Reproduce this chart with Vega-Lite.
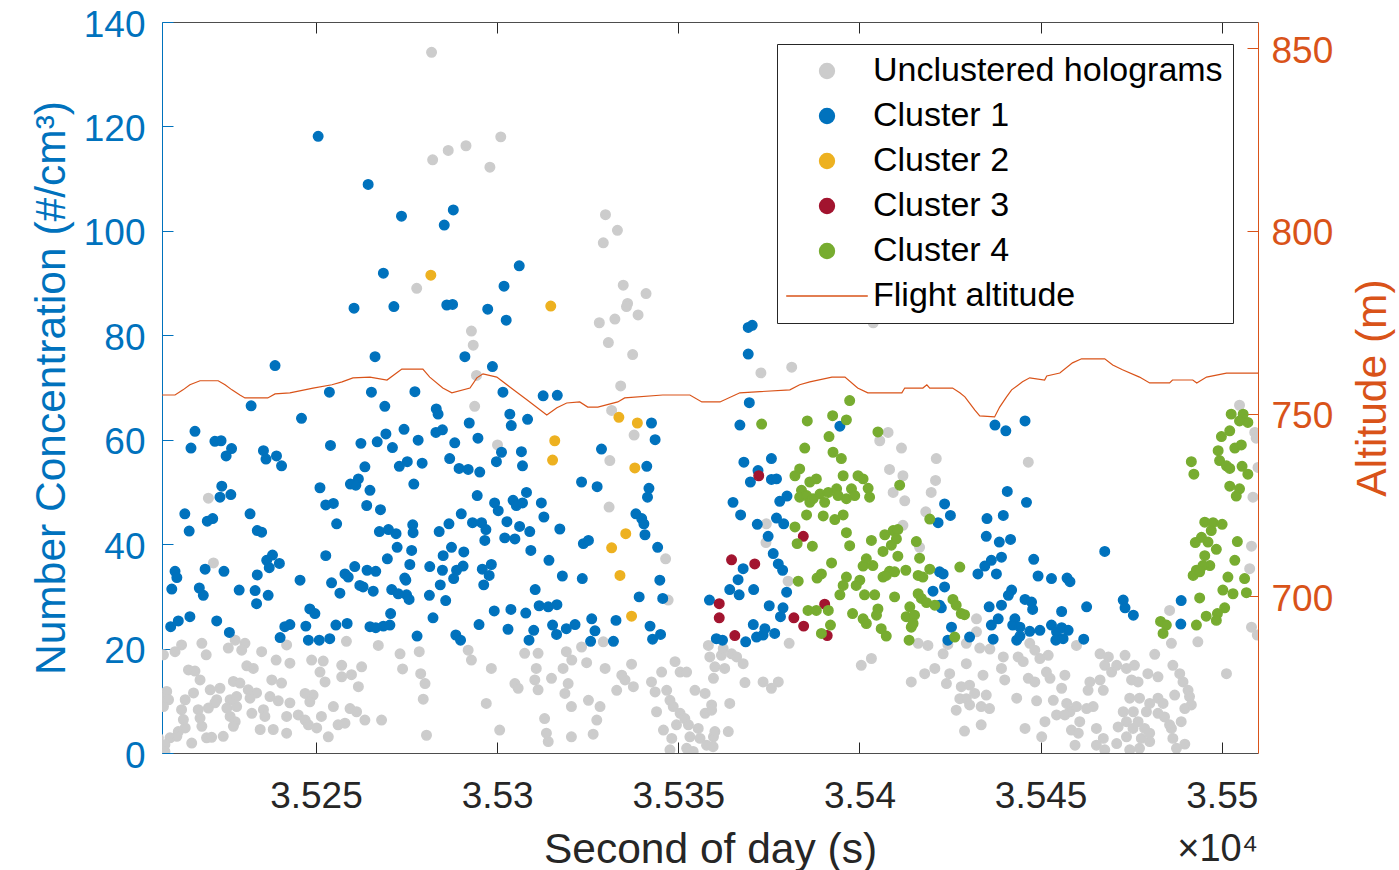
{
"$schema":"https://vega.github.io/schema/vega-lite/v6.json",
"width":1096,"height":731,
"autosize":{"type":"none"},
"padding":{"left":162,"top":22,"right":141,"bottom":117},
"background":"#ffffff",
"config":{"view":{"stroke":null},"font":"Liberation Sans","legend":{"orient":"none","legendX":615,"legendY":22,"title":null,"padding":10,"rowPadding":11,"labelFontSize":34,"labelFont":"Liberation Sans","labelColor":"#000000","labelLimit":600,"strokeColor":"#262626","fillColor":"#ffffff","symbolSize":220,"symbolStrokeWidth":1.5,"symbolOffset":23,"labelOffset":29}},
"title":{"text":"×10⁴","orient":"bottom","anchor":"end","frame":"group","fontSize":38,"fontWeight":"normal","color":"#262626","font":"Liberation Sans","offset":-40},
"datasets":{
"pts":[
{"t":35281.9,"n":134.2,"c":"U"},{"t":35282.2,"n":113.6,"c":"U"},{"t":35277.8,"n":89.0,"c":"U"},{"t":35286.5,"n":115.4,"c":"U"},{"t":35291.4,"n":116.3,"c":"U"},{"t":35301.0,"n":118.0,"c":"U"},{"t":35298.0,"n":112.2,"c":"U"},{"t":35329.9,"n":103.1,"c":"U"},{"t":35333.2,"n":100.1,"c":"U"},{"t":35329.3,"n":97.7,"c":"U"},{"t":35334.8,"n":89.6,"c":"U"},{"t":35341.1,"n":88.0,"c":"U"},{"t":35336.0,"n":86.1,"c":"U"},{"t":35335.7,"n":85.5,"c":"U"},{"t":35338.9,"n":83.9,"c":"U"},{"t":35328.2,"n":82.4,"c":"U"},{"t":35332.5,"n":83.1,"c":"U"},{"t":35330.7,"n":78.6,"c":"U"},{"t":35337.4,"n":76.3,"c":"U"},{"t":35292.9,"n":80.8,"c":"U"},{"t":35293.4,"n":78.1,"c":"U"},{"t":35294.3,"n":72.3,"c":"U"},{"t":35334.1,"n":70.3,"c":"U"},{"t":35372.8,"n":72.8,"c":"U"},{"t":35381.3,"n":73.9,"c":"U"},{"t":35403.8,"n":82.4,"c":"U"},
{"t":35220.3,"n":48.8,"c":"U"},{"t":35221.7,"n":36.4,"c":"U"},
{"t":35207.9,"n":18.8,"c":"U"},{"t":35211.1,"n":19.4,"c":"U"},{"t":35212.9,"n":20.7,"c":"U"},{"t":35218.5,"n":21.0,"c":"U"},{"t":35219.7,"n":18.8,"c":"U"},{"t":35225.8,"n":20.1,"c":"U"},{"t":35227.7,"n":21.6,"c":"U"},{"t":35230.4,"n":21.0,"c":"U"},{"t":35229.5,"n":19.7,"c":"U"},{"t":35235.0,"n":19.4,"c":"U"},{"t":35239.0,"n":17.8,"c":"U"},{"t":35241.9,"n":20.7,"c":"U"},{"t":35242.8,"n":17.2,"c":"U"},{"t":35214.8,"n":15.9,"c":"U"},{"t":35216.6,"n":15.7,"c":"U"},{"t":35218.0,"n":14.0,"c":"U"},{"t":35230.9,"n":16.7,"c":"U"},{"t":35232.7,"n":16.2,"c":"U"},{"t":35237.8,"n":14.0,"c":"U"},{"t":35240.5,"n":13.4,"c":"U"},{"t":35220.8,"n":12.1,"c":"U"},{"t":35223.5,"n":12.4,"c":"U"},{"t":35227.2,"n":13.7,"c":"U"},{"t":35229.0,"n":13.4,"c":"U"},{"t":35231.3,"n":12.1,"c":"U"},{"t":35233.6,"n":11.5,"c":"U"},{"t":35208.8,"n":11.8,"c":"U"},{"t":35207.4,"n":10.5,"c":"U"},{"t":35209.3,"n":10.2,"c":"U"},{"t":35216.2,"n":11.5,"c":"U"},{"t":35213.9,"n":10.2,"c":"U"},{"t":35222.6,"n":10.2,"c":"U"},{"t":35226.3,"n":10.2,"c":"U"},{"t":35228.1,"n":10.8,"c":"U"},{"t":35231.8,"n":10.5,"c":"U"},{"t":35237.3,"n":10.8,"c":"U"},{"t":35239.6,"n":10.0,"c":"U"},{"t":35242.8,"n":9.6,"c":"U"},{"t":35207.9,"n":8.9,"c":"U"},{"t":35212.9,"n":8.3,"c":"U"},{"t":35217.5,"n":8.3,"c":"U"},{"t":35220.3,"n":8.6,"c":"U"},{"t":35222.1,"n":9.6,"c":"U"},{"t":35225.4,"n":8.6,"c":"U"},{"t":35228.1,"n":8.9,"c":"U"},{"t":35232.3,"n":7.6,"c":"U"},{"t":35235.5,"n":8.3,"c":"U"},{"t":35235.9,"n":7.0,"c":"U"},{"t":35241.9,"n":7.0,"c":"U"},{"t":35213.4,"n":6.4,"c":"U"},{"t":35218.0,"n":6.7,"c":"U"},{"t":35226.3,"n":7.0,"c":"U"},{"t":35227.7,"n":6.0,"c":"U"},{"t":35218.5,"n":5.1,"c":"U"},{"t":35213.9,"n":4.8,"c":"U"},{"t":35212.0,"n":4.1,"c":"U"},{"t":35227.2,"n":5.1,"c":"U"},{"t":35234.6,"n":4.5,"c":"U"},{"t":35238.2,"n":4.5,"c":"U"},{"t":35241.9,"n":3.8,"c":"U"},{"t":35206.5,"n":2.9,"c":"U"},{"t":35209.7,"n":2.9,"c":"U"},{"t":35211.6,"n":3.2,"c":"U"},{"t":35208.3,"n":1.6,"c":"U"},{"t":35208.3,"n":0.3,"c":"U"},{"t":35215.7,"n":1.9,"c":"U"},{"t":35219.8,"n":2.9,"c":"U"},{"t":35221.2,"n":3.0,"c":"U"},{"t":35224.4,"n":3.2,"c":"U"},
{"t":35248.8,"n":17.8,"c":"U"},{"t":35252.0,"n":17.6,"c":"U"},{"t":35251.1,"n":15.5,"c":"U"},{"t":35252.5,"n":13.6,"c":"U"},{"t":35257.1,"n":16.8,"c":"U"},{"t":35257.1,"n":14.6,"c":"U"},{"t":35259.8,"n":15.0,"c":"U"},{"t":35262.6,"n":16.5,"c":"U"},{"t":35261.7,"n":12.7,"c":"U"},{"t":35258.4,"n":21.4,"c":"U"},{"t":35267.2,"n":20.6,"c":"U"},{"t":35273.2,"n":19.0,"c":"U"},{"t":35273.9,"n":16.1,"c":"U"},{"t":35278.5,"n":19.4,"c":"U"},{"t":35278.9,"n":15.2,"c":"U"},{"t":35280.1,"n":13.3,"c":"U"},{"t":35279.6,"n":10.3,"c":"U"},{"t":35247.0,"n":11.4,"c":"U"},{"t":35249.2,"n":11.1,"c":"U"},{"t":35248.3,"n":9.8,"c":"U"},{"t":35245.1,"n":7.3,"c":"U"},{"t":35247.0,"n":6.3,"c":"U"},{"t":35247.9,"n":5.4,"c":"U"},{"t":35250.2,"n":4.8,"c":"U"},{"t":35251.5,"n":7.0,"c":"U"},{"t":35254.8,"n":8.9,"c":"U"},{"t":35259.4,"n":8.5,"c":"U"},{"t":35261.2,"n":7.9,"c":"U"},{"t":35256.1,"n":5.4,"c":"U"},{"t":35258.0,"n":5.7,"c":"U"},{"t":35263.5,"n":6.3,"c":"U"},{"t":35268.1,"n":6.3,"c":"U"},{"t":35253.4,"n":3.1,"c":"U"},{"t":35280.5,"n":3.4,"c":"U"},
{"t":35293.8,"n":66.4,"c":"U"},{"t":35300.1,"n":59.0,"c":"U"},{"t":35292.0,"n":19.7,"c":"U"},{"t":35292.9,"n":17.8,"c":"U"},{"t":35298.4,"n":16.2,"c":"U"},{"t":35297.0,"n":9.5,"c":"U"},{"t":35300.7,"n":4.4,"c":"U"},{"t":35307.6,"n":19.1,"c":"U"},{"t":35311.3,"n":19.1,"c":"U"},{"t":35310.8,"n":16.2,"c":"U"},{"t":35310.4,"n":14.0,"c":"U"},{"t":35311.3,"n":12.1,"c":"U"},{"t":35304.9,"n":13.3,"c":"U"},{"t":35305.8,"n":12.4,"c":"U"},{"t":35315.0,"n":14.3,"c":"U"},{"t":35313.1,"n":6.6,"c":"U"},{"t":35313.6,"n":3.8,"c":"U"},{"t":35314.1,"n":2.2,"c":"U"},{"t":35319.1,"n":19.4,"c":"U"},{"t":35318.2,"n":16.2,"c":"U"},{"t":35319.6,"n":13.3,"c":"U"},{"t":35318.7,"n":11.4,"c":"U"},{"t":35320.5,"n":8.9,"c":"U"},{"t":35320.5,"n":3.1,"c":"U"},
{"t":35331.6,"n":65.6,"c":"U"},{"t":35337.8,"n":60.9,"c":"U"},{"t":35331.1,"n":56.0,"c":"U"},{"t":35330.9,"n":47.1,"c":"U"},{"t":35346.5,"n":37.2,"c":"U"},{"t":35347.2,"n":29.3,"c":"U"},{"t":35323.3,"n":20.3,"c":"U"},{"t":35329.3,"n":21.3,"c":"U"},{"t":35320.6,"n":17.8,"c":"U"},{"t":35324.7,"n":17.3,"c":"U"},{"t":35329.8,"n":16.2,"c":"U"},{"t":35337.1,"n":17.0,"c":"U"},{"t":35334.4,"n":14.9,"c":"U"},{"t":35335.3,"n":14.0,"c":"U"},{"t":35333.0,"n":12.0,"c":"U"},{"t":35337.6,"n":12.7,"c":"U"},{"t":35325.2,"n":10.1,"c":"U"},{"t":35328.4,"n":8.9,"c":"U"},{"t":35327.5,"n":6.3,"c":"U"},{"t":35326.5,"n":3.6,"c":"U"},{"t":35342.6,"n":13.6,"c":"U"},{"t":35343.6,"n":11.7,"c":"U"},{"t":35346.8,"n":12.0,"c":"U"},{"t":35345.4,"n":15.5,"c":"U"},{"t":35349.1,"n":17.5,"c":"U"},{"t":35350.5,"n":15.5,"c":"U"},{"t":35352.3,"n":15.5,"c":"U"},{"t":35347.7,"n":10.1,"c":"U"},{"t":35344.0,"n":7.9,"c":"U"},{"t":35348.6,"n":8.9,"c":"U"},{"t":35350.5,"n":7.6,"c":"U"},{"t":35351.8,"n":6.6,"c":"U"},{"t":35345.9,"n":4.4,"c":"U"},{"t":35348.2,"n":2.8,"c":"U"},{"t":35349.5,"n":5.4,"c":"U"},{"t":35354.6,"n":12.0,"c":"U"},{"t":35357.4,"n":11.4,"c":"U"},{"t":35357.4,"n":7.6,"c":"U"},{"t":35352.8,"n":5.4,"c":"U"},{"t":35355.5,"n":4.7,"c":"U"},{"t":35353.2,"n":3.1,"c":"U"},{"t":35356.0,"n":2.8,"c":"U"},{"t":35357.8,"n":1.5,"c":"U"},{"t":35347.7,"n":0.6,"c":"U"},{"t":35352.3,"n":0.9,"c":"U"},{"t":35354.1,"n":0.3,"c":"U"},{"t":35358.3,"n":20.6,"c":"U"},{"t":35358.7,"n":18.4,"c":"U"},{"t":35359.7,"n":14.3,"c":"U"},{"t":35359.2,"n":9.2,"c":"U"},{"t":35359.7,"n":3.1,"c":"U"},
{"t":35374.3,"n":43.9,"c":"U"},{"t":35374.2,"n":40.3,"c":"U"},{"t":35380.3,"n":32.9,"c":"U"},{"t":35380.6,"n":21.0,"c":"U"},{"t":35361.9,"n":18.7,"c":"U"},{"t":35362.4,"n":20.0,"c":"U"},{"t":35364.7,"n":19.0,"c":"U"},{"t":35366.1,"n":18.4,"c":"U"},{"t":35367.9,"n":17.1,"c":"U"},{"t":35360.1,"n":16.5,"c":"U"},{"t":35362.8,"n":16.2,"c":"U"},{"t":35368.4,"n":13.5,"c":"U"},{"t":35373.4,"n":13.6,"c":"U"},{"t":35375.7,"n":12.4,"c":"U"},{"t":35377.6,"n":13.6,"c":"U"},{"t":35364.2,"n":9.5,"c":"U"},{"t":35359.2,"n":8.2,"c":"U"},{"t":35360.1,"n":4.1,"c":"U"},{"t":35363.8,"n":4.1,"c":"U"},{"t":35359.6,"n":1.2,"c":"U"},
{"t":35407.9,"n":61.4,"c":"U"},{"t":35405.6,"n":59.8,"c":"U"},{"t":35411.6,"n":58.4,"c":"U"},{"t":35421.2,"n":56.4,"c":"U"},{"t":35408.3,"n":54.3,"c":"U"},{"t":35412.0,"n":53.1,"c":"U"},{"t":35409.3,"n":49.9,"c":"U"},{"t":35412.5,"n":48.3,"c":"U"},{"t":35421.0,"n":52.2,"c":"U"},{"t":35419.8,"n":49.9,"c":"U"},{"t":35418.3,"n":46.2,"c":"U"},{"t":35412.0,"n":43.6,"c":"U"},{"t":35416.6,"n":39.4,"c":"U"},{"t":35432.3,"n":25.7,"c":"U"},{"t":35432.3,"n":23.2,"c":"U"},{"t":35429.5,"n":21.0,"c":"U"},{"t":35416.2,"n":21.0,"c":"U"},{"t":35418.9,"n":20.6,"c":"U"},{"t":35423.1,"n":19.0,"c":"U"},{"t":35424.4,"n":20.8,"c":"U"},{"t":35433.2,"n":20.1,"c":"U"},{"t":35436.0,"n":19.9,"c":"U"},{"t":35400.5,"n":16.8,"c":"U"},{"t":35403.3,"n":18.1,"c":"U"},{"t":35418.0,"n":15.2,"c":"U"},{"t":35420.8,"n":16.2,"c":"U"},{"t":35414.3,"n":13.6,"c":"U"},{"t":35424.9,"n":15.2,"c":"U"},{"t":35424.0,"n":13.3,"c":"U"},{"t":35429.5,"n":17.1,"c":"U"},{"t":35428.1,"n":12.7,"c":"U"},{"t":35430.4,"n":13.0,"c":"U"},{"t":35427.7,"n":10.4,"c":"U"},{"t":35429.5,"n":10.4,"c":"U"},{"t":35431.8,"n":11.4,"c":"U"},{"t":35434.1,"n":14.9,"c":"U"},{"t":35435.0,"n":11.1,"c":"U"},{"t":35433.6,"n":8.9,"c":"U"},{"t":35435.9,"n":8.5,"c":"U"},{"t":35426.7,"n":8.2,"c":"U"},{"t":35430.4,"n":9.2,"c":"U"},{"t":35429.0,"n":4.2,"c":"U"},{"t":35433.6,"n":5.4,"c":"U"},
{"t":35446.6,"n":55.7,"c":"U"},{"t":35439.7,"n":18.4,"c":"U"},{"t":35439.2,"n":16.2,"c":"U"},{"t":35440.1,"n":14.0,"c":"U"},{"t":35443.8,"n":18.4,"c":"U"},{"t":35445.2,"n":17.5,"c":"U"},{"t":35447.0,"n":21.0,"c":"U"},{"t":35448.4,"n":19.7,"c":"U"},{"t":35449.8,"n":18.1,"c":"U"},{"t":35452.1,"n":18.7,"c":"U"},{"t":35446.6,"n":14.3,"c":"U"},{"t":35448.4,"n":13.6,"c":"U"},{"t":35451.6,"n":15.5,"c":"U"},{"t":35452.6,"n":14.3,"c":"U"},{"t":35456.7,"n":14.9,"c":"U"},{"t":35455.8,"n":12.4,"c":"U"},{"t":35459.9,"n":20.6,"c":"U"},{"t":35466.4,"n":19.0,"c":"U"},{"t":35468.7,"n":18.4,"c":"U"},{"t":35467.7,"n":16.8,"c":"U"},{"t":35463.6,"n":13.6,"c":"U"},{"t":35463.1,"n":12.0,"c":"U"},{"t":35466.4,"n":14.0,"c":"U"},{"t":35467.3,"n":12.0,"c":"U"},{"t":35464.5,"n":8.9,"c":"U"},{"t":35469.6,"n":15.5,"c":"U"},{"t":35471.0,"n":16.8,"c":"U"},{"t":35473.3,"n":18.7,"c":"U"},{"t":35473.7,"n":16.2,"c":"U"},{"t":35475.1,"n":14.0,"c":"U"},{"t":35474.6,"n":10.5,"c":"U"},{"t":35475.6,"n":7.9,"c":"U"},{"t":35443.4,"n":10.5,"c":"U"},{"t":35448.9,"n":10.0,"c":"U"},{"t":35453.5,"n":10.1,"c":"U"},{"t":35457.2,"n":9.5,"c":"U"},{"t":35454.4,"n":7.3,"c":"U"},{"t":35458.1,"n":7.9,"c":"U"},{"t":35459.9,"n":8.9,"c":"U"},{"t":35462.7,"n":8.5,"c":"U"},{"t":35451.2,"n":6.0,"c":"U"},{"t":35450.3,"n":3.1,"c":"U"},{"t":35445.7,"n":4.7,"c":"U"},{"t":35458.5,"n":4.4,"c":"U"},{"t":35460.4,"n":3.8,"c":"U"},{"t":35459.5,"n":1.5,"c":"U"},{"t":35465.4,"n":4.7,"c":"U"},{"t":35467.3,"n":2.8,"c":"U"},{"t":35465.4,"n":1.5,"c":"U"},{"t":35467.7,"n":0.6,"c":"U"},{"t":35471.4,"n":5.0,"c":"U"},{"t":35472.8,"n":7.9,"c":"U"},{"t":35473.7,"n":6.0,"c":"U"},{"t":35473.7,"n":3.1,"c":"U"},{"t":35471.0,"n":1.8,"c":"U"},{"t":35474.6,"n":0.6,"c":"U"},{"t":35456.7,"n":7.3,"c":"U"},{"t":35460.8,"n":6.0,"c":"U"},
{"t":35504.9,"n":66.6,"c":"U"},{"t":35509.1,"n":61.4,"c":"U"},{"t":35509.5,"n":60.3,"c":"U"},{"t":35510.0,"n":54.7,"c":"U"},{"t":35508.6,"n":49.0,"c":"U"},{"t":35508.2,"n":39.6,"c":"U"},{"t":35507.7,"n":35.3,"c":"U"},{"t":35508.2,"n":24.1,"c":"U"},{"t":35509.8,"n":22.6,"c":"U"},{"t":35501.3,"n":15.2,"c":"U"},{"t":35493.4,"n":21.3,"c":"U"},{"t":35485.6,"n":27.3,"c":"U"},{"t":35486.1,"n":21.0,"c":"U"},{"t":35481.5,"n":18.9,"c":"U"},{"t":35475.9,"n":16.8,"c":"U"},{"t":35486.5,"n":16.8,"c":"U"},{"t":35488.4,"n":15.2,"c":"U"},{"t":35479.6,"n":15.2,"c":"U"},{"t":35482.4,"n":14.6,"c":"U"},{"t":35476.9,"n":13.6,"c":"U"},{"t":35489.3,"n":13.6,"c":"U"},{"t":35490.7,"n":12.0,"c":"U"},{"t":35491.1,"n":10.8,"c":"U"},{"t":35491.6,"n":9.2,"c":"U"},{"t":35477.3,"n":10.5,"c":"U"},{"t":35482.4,"n":10.5,"c":"U"},{"t":35480.1,"n":9.5,"c":"U"},{"t":35483.8,"n":9.5,"c":"U"},{"t":35487.0,"n":11.1,"c":"U"},{"t":35489.8,"n":8.5,"c":"U"},{"t":35479.2,"n":7.9,"c":"U"},{"t":35482.4,"n":7.6,"c":"U"},{"t":35484.2,"n":6.9,"c":"U"},{"t":35488.8,"n":6.0,"c":"U"},{"t":35476.9,"n":6.0,"c":"U"},{"t":35475.5,"n":4.7,"c":"U"},{"t":35478.7,"n":4.7,"c":"U"},{"t":35480.1,"n":3.8,"c":"U"},{"t":35486.1,"n":4.7,"c":"U"},{"t":35485.6,"n":5.4,"c":"U"},{"t":35477.8,"n":2.8,"c":"U"},{"t":35480.1,"n":2.2,"c":"U"},{"t":35477.3,"n":0.9,"c":"U"},{"t":35487.5,"n":0.9,"c":"U"},{"t":35489.8,"n":1.7,"c":"U"},{"t":35486.5,"n":2.8,"c":"U"},
{"t":35250.6,"n":118.1,"c":"C1"},{"t":35264.4,"n":108.9,"c":"C1"},{"t":35273.6,"n":102.8,"c":"C1"},{"t":35268.6,"n":91.9,"c":"C1"},{"t":35260.5,"n":85.2,"c":"C1"},{"t":35271.5,"n":85.5,"c":"C1"},{"t":35266.3,"n":75.9,"c":"C1"},{"t":35238.7,"n":74.2,"c":"C1"},{"t":35287.9,"n":104.0,"c":"C1"},{"t":35285.4,"n":101.1,"c":"C1"},{"t":35306.1,"n":93.3,"c":"C1"},{"t":35301.9,"n":89.4,"c":"C1"},{"t":35286.1,"n":85.8,"c":"C1"},{"t":35287.7,"n":85.9,"c":"C1"},{"t":35297.4,"n":85.0,"c":"C1"},{"t":35302.5,"n":82.9,"c":"C1"},{"t":35291.1,"n":75.9,"c":"C1"},{"t":35298.7,"n":74.0,"c":"C1"},{"t":35369.3,"n":81.5,"c":"C1"},{"t":35370.4,"n":81.9,"c":"C1"},{"t":35369.3,"n":76.4,"c":"C1"},
{"t":35232.1,"n":66.5,"c":"C1"},{"t":35216.6,"n":61.6,"c":"C1"},{"t":35215.5,"n":58.4,"c":"C1"},{"t":35222.1,"n":59.7,"c":"C1"},{"t":35223.8,"n":59.8,"c":"C1"},{"t":35225.2,"n":56.9,"c":"C1"},{"t":35226.7,"n":58.3,"c":"C1"},{"t":35235.5,"n":57.9,"c":"C1"},{"t":35236.2,"n":56.3,"c":"C1"},{"t":35239.1,"n":56.9,"c":"C1"},{"t":35240.5,"n":55.0,"c":"C1"},{"t":35224.0,"n":51.1,"c":"C1"},{"t":35223.5,"n":49.0,"c":"C1"},{"t":35226.5,"n":49.5,"c":"C1"},{"t":35213.8,"n":45.8,"c":"C1"},{"t":35215.0,"n":42.5,"c":"C1"},{"t":35220.0,"n":44.4,"c":"C1"},{"t":35221.5,"n":44.9,"c":"C1"},{"t":35231.8,"n":45.8,"c":"C1"},{"t":35233.8,"n":42.6,"c":"C1"},{"t":35235.0,"n":42.3,"c":"C1"},{"t":35236.4,"n":36.9,"c":"C1"},{"t":35238.0,"n":37.9,"c":"C1"},{"t":35239.9,"n":36.3,"c":"C1"},{"t":35237.1,"n":35.5,"c":"C1"},{"t":35211.1,"n":34.8,"c":"C1"},{"t":35211.6,"n":33.6,"c":"C1"},{"t":35210.2,"n":31.4,"c":"C1"},{"t":35219.4,"n":35.2,"c":"C1"},{"t":35224.6,"n":34.8,"c":"C1"},{"t":35217.8,"n":31.6,"c":"C1"},{"t":35218.9,"n":30.2,"c":"C1"},{"t":35228.8,"n":31.2,"c":"C1"},{"t":35233.8,"n":34.1,"c":"C1"},{"t":35233.2,"n":31.1,"c":"C1"},{"t":35233.6,"n":28.6,"c":"C1"},{"t":35236.8,"n":30.2,"c":"C1"},{"t":35209.9,"n":24.2,"c":"C1"},{"t":35212.0,"n":25.3,"c":"C1"},{"t":35215.2,"n":26.1,"c":"C1"},{"t":35222.6,"n":25.3,"c":"C1"},{"t":35226.1,"n":23.1,"c":"C1"},{"t":35241.4,"n":24.2,"c":"C1"},{"t":35242.8,"n":24.6,"c":"C1"},{"t":35240.1,"n":22.1,"c":"C1"},
{"t":35253.7,"n":69.1,"c":"C1"},{"t":35265.3,"n":69.1,"c":"C1"},{"t":35277.3,"n":69.2,"c":"C1"},{"t":35269.0,"n":66.4,"c":"C1"},{"t":35246.0,"n":64.1,"c":"C1"},{"t":35274.3,"n":62.0,"c":"C1"},{"t":35269.3,"n":61.1,"c":"C1"},{"t":35266.9,"n":59.6,"c":"C1"},{"t":35271.1,"n":58.5,"c":"C1"},{"t":35278.2,"n":59.9,"c":"C1"},{"t":35254.0,"n":58.9,"c":"C1"},{"t":35262.4,"n":59.3,"c":"C1"},{"t":35263.5,"n":54.8,"c":"C1"},{"t":35273.0,"n":54.9,"c":"C1"},{"t":35275.2,"n":55.8,"c":"C1"},{"t":35279.3,"n":55.5,"c":"C1"},{"t":35277.0,"n":51.5,"c":"C1"},{"t":35251.1,"n":50.8,"c":"C1"},{"t":35259.5,"n":51.5,"c":"C1"},{"t":35261.7,"n":52.5,"c":"C1"},{"t":35261.0,"n":51.3,"c":"C1"},{"t":35264.9,"n":50.3,"c":"C1"},{"t":35252.7,"n":47.5,"c":"C1"},{"t":35254.8,"n":47.8,"c":"C1"},{"t":35264.0,"n":47.4,"c":"C1"},{"t":35267.8,"n":46.6,"c":"C1"},{"t":35255.7,"n":43.9,"c":"C1"},{"t":35267.5,"n":42.4,"c":"C1"},{"t":35270.0,"n":42.8,"c":"C1"},{"t":35272.1,"n":42.0,"c":"C1"},{"t":35272.4,"n":39.4,"c":"C1"},{"t":35276.7,"n":43.7,"c":"C1"},{"t":35276.8,"n":42.2,"c":"C1"},{"t":35276.4,"n":38.8,"c":"C1"},{"t":35252.7,"n":37.8,"c":"C1"},{"t":35269.7,"n":37.2,"c":"C1"},{"t":35260.7,"n":35.7,"c":"C1"},{"t":35258.0,"n":34.3,"c":"C1"},{"t":35258.9,"n":33.7,"c":"C1"},{"t":35264.1,"n":35.0,"c":"C1"},{"t":35266.5,"n":34.8,"c":"C1"},{"t":35275.9,"n":36.1,"c":"C1"},{"t":35281.4,"n":35.7,"c":"C1"},{"t":35274.5,"n":33.5,"c":"C1"},{"t":35274.8,"n":33.1,"c":"C1"},{"t":35245.6,"n":33.1,"c":"C1"},{"t":35254.3,"n":32.6,"c":"C1"},{"t":35256.6,"n":30.6,"c":"C1"},{"t":35262.1,"n":32.1,"c":"C1"},{"t":35263.0,"n":31.8,"c":"C1"},{"t":35265.8,"n":31.0,"c":"C1"},{"t":35270.9,"n":31.3,"c":"C1"},{"t":35272.7,"n":30.5,"c":"C1"},{"t":35275.0,"n":30.3,"c":"C1"},{"t":35275.7,"n":29.4,"c":"C1"},{"t":35281.3,"n":30.2,"c":"C1"},{"t":35248.3,"n":27.6,"c":"C1"},{"t":35249.7,"n":26.7,"c":"C1"},{"t":35270.6,"n":26.7,"c":"C1"},{"t":35247.2,"n":24.3,"c":"C1"},{"t":35255.5,"n":24.5,"c":"C1"},{"t":35258.6,"n":24.8,"c":"C1"},{"t":35264.9,"n":24.2,"c":"C1"},{"t":35266.5,"n":24.0,"c":"C1"},{"t":35268.6,"n":24.3,"c":"C1"},{"t":35270.4,"n":24.5,"c":"C1"},{"t":35247.9,"n":21.6,"c":"C1"},{"t":35250.9,"n":21.6,"c":"C1"},{"t":35253.8,"n":21.9,"c":"C1"},{"t":35277.9,"n":22.4,"c":"C1"},
{"t":35301.6,"n":69.1,"c":"C1"},{"t":35312.7,"n":68.4,"c":"C1"},{"t":35316.6,"n":68.5,"c":"C1"},{"t":35283.2,"n":65.9,"c":"C1"},{"t":35283.7,"n":64.9,"c":"C1"},{"t":35283.1,"n":61.4,"c":"C1"},{"t":35284.9,"n":61.9,"c":"C1"},{"t":35303.5,"n":64.9,"c":"C1"},{"t":35303.9,"n":62.7,"c":"C1"},{"t":35308.4,"n":63.9,"c":"C1"},{"t":35292.3,"n":63.2,"c":"C1"},{"t":35294.7,"n":60.3,"c":"C1"},{"t":35288.3,"n":59.4,"c":"C1"},{"t":35301.2,"n":57.6,"c":"C1"},{"t":35299.8,"n":55.8,"c":"C1"},{"t":35306.7,"n":57.7,"c":"C1"},{"t":35307.0,"n":55.0,"c":"C1"},{"t":35286.9,"n":56.4,"c":"C1"},{"t":35289.5,"n":54.5,"c":"C1"},{"t":35292.0,"n":54.3,"c":"C1"},{"t":35295.2,"n":53.8,"c":"C1"},{"t":35294.5,"n":49.3,"c":"C1"},{"t":35299.3,"n":47.9,"c":"C1"},{"t":35300.3,"n":46.4,"c":"C1"},{"t":35304.4,"n":48.4,"c":"C1"},{"t":35305.3,"n":47.4,"c":"C1"},{"t":35307.0,"n":47.9,"c":"C1"},{"t":35308.1,"n":49.9,"c":"C1"},{"t":35312.2,"n":47.9,"c":"C1"},{"t":35312.9,"n":45.2,"c":"C1"},{"t":35317.3,"n":42.9,"c":"C1"},{"t":35290.1,"n":45.8,"c":"C1"},{"t":35286.7,"n":43.9,"c":"C1"},{"t":35284.0,"n":42.4,"c":"C1"},{"t":35293.2,"n":44.1,"c":"C1"},{"t":35295.7,"n":44.1,"c":"C1"},{"t":35296.9,"n":42.8,"c":"C1"},{"t":35296.6,"n":40.7,"c":"C1"},{"t":35302.7,"n":44.3,"c":"C1"},{"t":35306.2,"n":43.4,"c":"C1"},{"t":35309.0,"n":42.4,"c":"C1"},{"t":35302.1,"n":41.2,"c":"C1"},{"t":35304.9,"n":41.0,"c":"C1"},{"t":35309.3,"n":38.8,"c":"C1"},{"t":35314.3,"n":36.9,"c":"C1"},{"t":35287.4,"n":39.4,"c":"C1"},{"t":35285.1,"n":37.8,"c":"C1"},{"t":35290.8,"n":38.5,"c":"C1"},{"t":35284.9,"n":35.0,"c":"C1"},{"t":35288.8,"n":35.0,"c":"C1"},{"t":35290.6,"n":35.8,"c":"C1"},{"t":35288.0,"n":33.4,"c":"C1"},{"t":35295.9,"n":35.2,"c":"C1"},{"t":35298.4,"n":36.1,"c":"C1"},{"t":35297.8,"n":34.0,"c":"C1"},{"t":35296.3,"n":32.2,"c":"C1"},{"t":35318.0,"n":33.9,"c":"C1"},{"t":35284.3,"n":32.2,"c":"C1"},{"t":35285.8,"n":29.2,"c":"C1"},{"t":35282.3,"n":25.9,"c":"C1"},{"t":35310.5,"n":31.3,"c":"C1"},{"t":35311.6,"n":28.2,"c":"C1"},{"t":35314.1,"n":28.0,"c":"C1"},{"t":35316.5,"n":28.4,"c":"C1"},{"t":35299.2,"n":27.2,"c":"C1"},{"t":35303.8,"n":27.5,"c":"C1"},{"t":35307.9,"n":26.8,"c":"C1"},{"t":35295.0,"n":24.6,"c":"C1"},{"t":35303.0,"n":23.7,"c":"C1"},{"t":35310.1,"n":23.5,"c":"C1"},{"t":35308.8,"n":21.6,"c":"C1"},{"t":35315.3,"n":24.5,"c":"C1"},{"t":35316.4,"n":22.7,"c":"C1"},{"t":35319.1,"n":23.8,"c":"C1"},{"t":35288.6,"n":22.6,"c":"C1"},{"t":35289.9,"n":21.6,"c":"C1"},
{"t":35342.6,"n":63.2,"c":"C1"},{"t":35343.6,"n":60.0,"c":"C1"},{"t":35328.8,"n":58.2,"c":"C1"},{"t":35341.3,"n":54.9,"c":"C1"},{"t":35323.3,"n":51.9,"c":"C1"},{"t":35327.6,"n":51.0,"c":"C1"},{"t":35341.9,"n":50.7,"c":"C1"},{"t":35341.5,"n":49.0,"c":"C1"},{"t":35338.3,"n":45.8,"c":"C1"},{"t":35339.9,"n":44.9,"c":"C1"},{"t":35340.5,"n":43.9,"c":"C1"},{"t":35340.8,"n":41.8,"c":"C1"},{"t":35323.8,"n":40.1,"c":"C1"},{"t":35325.2,"n":40.7,"c":"C1"},{"t":35344.3,"n":39.4,"c":"C1"},{"t":35323.5,"n":33.4,"c":"C1"},{"t":35344.9,"n":33.1,"c":"C1"},{"t":35345.7,"n":29.6,"c":"C1"},{"t":35339.2,"n":29.9,"c":"C1"},{"t":35321.5,"n":24.6,"c":"C1"},{"t":35326.1,"n":25.7,"c":"C1"},{"t":35327.0,"n":23.4,"c":"C1"},{"t":35325.8,"n":21.4,"c":"C1"},{"t":35332.8,"n":25.4,"c":"C1"},{"t":35332.1,"n":21.4,"c":"C1"},{"t":35342.2,"n":24.3,"c":"C1"},{"t":35342.9,"n":21.8,"c":"C1"},{"t":35345.1,"n":22.7,"c":"C1"},{"t":35358.6,"n":29.3,"c":"C1"},
{"t":35369.6,"n":67.1,"c":"C1"},{"t":35367.0,"n":62.8,"c":"C1"},{"t":35394.6,"n":62.6,"c":"C1"},{"t":35368.1,"n":55.7,"c":"C1"},{"t":35375.7,"n":56.4,"c":"C1"},{"t":35372.0,"n":54.1,"c":"C1"},{"t":35369.9,"n":51.9,"c":"C1"},{"t":35375.7,"n":52.4,"c":"C1"},{"t":35377.1,"n":52.5,"c":"C1"},{"t":35378.0,"n":48.2,"c":"C1"},{"t":35380.0,"n":49.2,"c":"C1"},{"t":35365.1,"n":48.0,"c":"C1"},{"t":35367.2,"n":45.6,"c":"C1"},{"t":35371.8,"n":43.8,"c":"C1"},{"t":35377.1,"n":45.0,"c":"C1"},{"t":35379.1,"n":43.9,"c":"C1"},{"t":35374.8,"n":41.5,"c":"C1"},{"t":35376.2,"n":38.2,"c":"C1"},{"t":35377.6,"n":36.2,"c":"C1"},{"t":35378.8,"n":35.0,"c":"C1"},{"t":35367.9,"n":35.3,"c":"C1"},{"t":35366.5,"n":33.2,"c":"C1"},{"t":35364.2,"n":31.3,"c":"C1"},{"t":35366.8,"n":30.3,"c":"C1"},{"t":35370.8,"n":31.3,"c":"C1"},{"t":35379.9,"n":30.8,"c":"C1"},{"t":35375.1,"n":28.2,"c":"C1"},{"t":35378.9,"n":27.8,"c":"C1"},{"t":35378.2,"n":26.1,"c":"C1"},{"t":35370.7,"n":24.6,"c":"C1"},{"t":35360.5,"n":21.9,"c":"C1"},{"t":35362.2,"n":21.6,"c":"C1"},{"t":35368.6,"n":21.3,"c":"C1"},{"t":35371.6,"n":22.2,"c":"C1"},{"t":35373.4,"n":22.6,"c":"C1"},{"t":35373.9,"n":23.8,"c":"C1"},{"t":35376.6,"n":22.9,"c":"C1"},
{"t":35423.5,"n":47.7,"c":"C1"},{"t":35425.1,"n":45.5,"c":"C1"},{"t":35421.7,"n":44.1,"c":"C1"},{"t":35435.2,"n":44.9,"c":"C1"},{"t":35435.0,"n":41.5,"c":"C1"},{"t":35436.4,"n":36.9,"c":"C1"},{"t":35422.1,"n":34.7,"c":"C1"},{"t":35423.1,"n":34.3,"c":"C1"},{"t":35432.7,"n":34.3,"c":"C1"},{"t":35434.6,"n":35.8,"c":"C1"},{"t":35420.3,"n":31.0,"c":"C1"},{"t":35423.5,"n":31.8,"c":"C1"},{"t":35422.1,"n":28.3,"c":"C1"},{"t":35422.6,"n":27.8,"c":"C1"},{"t":35435.8,"n":28.0,"c":"C1"},{"t":35436.4,"n":24.5,"c":"C1"},{"t":35425.4,"n":24.1,"c":"C1"},{"t":35424.4,"n":21.6,"c":"C1"},{"t":35430.4,"n":22.2,"c":"C1"},{"t":35436.9,"n":21.8,"c":"C1"},
{"t":35437.4,"n":62.8,"c":"C1"},{"t":35440.4,"n":61.7,"c":"C1"},{"t":35445.7,"n":63.6,"c":"C1"},{"t":35440.8,"n":50.1,"c":"C1"},{"t":35446.1,"n":48.0,"c":"C1"},{"t":35439.7,"n":45.5,"c":"C1"},{"t":35438.6,"n":40.4,"c":"C1"},{"t":35441.7,"n":40.9,"c":"C1"},{"t":35439.2,"n":37.5,"c":"C1"},{"t":35437.8,"n":34.3,"c":"C1"},{"t":35448.1,"n":37.1,"c":"C1"},{"t":35467.7,"n":38.6,"c":"C1"},{"t":35449.3,"n":33.9,"c":"C1"},{"t":35453.0,"n":33.4,"c":"C1"},{"t":35457.3,"n":33.5,"c":"C1"},{"t":35458.1,"n":32.8,"c":"C1"},{"t":35442.0,"n":31.2,"c":"C1"},{"t":35441.1,"n":30.2,"c":"C1"},{"t":35439.2,"n":28.3,"c":"C1"},{"t":35445.7,"n":29.4,"c":"C1"},{"t":35447.5,"n":28.9,"c":"C1"},{"t":35447.8,"n":27.5,"c":"C1"},{"t":35455.8,"n":27.1,"c":"C1"},{"t":35462.7,"n":28.0,"c":"C1"},{"t":35472.8,"n":29.3,"c":"C1"},{"t":35473.3,"n":27.8,"c":"C1"},{"t":35475.6,"n":26.4,"c":"C1"},{"t":35438.3,"n":25.7,"c":"C1"},{"t":35442.9,"n":25.7,"c":"C1"},{"t":35442.3,"n":24.5,"c":"C1"},{"t":35444.3,"n":24.1,"c":"C1"},{"t":35443.4,"n":21.6,"c":"C1"},{"t":35444.3,"n":22.4,"c":"C1"},{"t":35447.0,"n":23.3,"c":"C1"},{"t":35449.8,"n":23.5,"c":"C1"},{"t":35453.0,"n":24.5,"c":"C1"},{"t":35454.4,"n":23.2,"c":"C1"},{"t":35455.8,"n":24.0,"c":"C1"},{"t":35457.6,"n":23.5,"c":"C1"},{"t":35454.2,"n":21.6,"c":"C1"},{"t":35456.2,"n":21.9,"c":"C1"},{"t":35461.9,"n":21.8,"c":"C1"},
{"t":35488.8,"n":29.2,"c":"C1"},{"t":35488.7,"n":24.7,"c":"C1"},
{"t":35281.7,"n":91.5,"c":"C2"},{"t":35314.8,"n":85.6,"c":"C2"},{"t":35315.9,"n":59.8,"c":"C2"},{"t":35315.3,"n":56.1,"c":"C2"},{"t":35333.6,"n":64.3,"c":"C2"},{"t":35338.7,"n":63.2,"c":"C2"},{"t":35338.0,"n":54.6,"c":"C2"},{"t":35335.5,"n":42.0,"c":"C2"},{"t":35331.6,"n":39.3,"c":"C2"},{"t":35333.9,"n":34.0,"c":"C2"},{"t":35337.1,"n":26.2,"c":"C2"},
{"t":35372.2,"n":53.1,"c":"C3"},{"t":35384.5,"n":41.5,"c":"C3"},{"t":35364.7,"n":37.0,"c":"C3"},{"t":35371.1,"n":36.2,"c":"C3"},{"t":35361.3,"n":28.6,"c":"C3"},{"t":35361.3,"n":25.9,"c":"C3"},{"t":35381.9,"n":25.9,"c":"C3"},{"t":35384.6,"n":24.3,"c":"C3"},{"t":35365.6,"n":22.5,"c":"C3"},{"t":35390.4,"n":28.5,"c":"C3"},{"t":35391.1,"n":22.5,"c":"C3"},
{"t":35373.0,"n":63.0,"c":"C4"},{"t":35385.6,"n":63.6,"c":"C4"},{"t":35397.3,"n":67.5,"c":"C4"},{"t":35392.6,"n":64.6,"c":"C4"},{"t":35396.4,"n":63.8,"c":"C4"},{"t":35391.6,"n":60.6,"c":"C4"},{"t":35384.9,"n":58.4,"c":"C4"},{"t":35392.7,"n":57.6,"c":"C4"},{"t":35395.0,"n":56.4,"c":"C4"},{"t":35383.5,"n":54.4,"c":"C4"},{"t":35382.2,"n":53.1,"c":"C4"},{"t":35395.5,"n":53.1,"c":"C4"},{"t":35386.3,"n":51.9,"c":"C4"},{"t":35388.1,"n":52.5,"c":"C4"},{"t":35384.0,"n":50.3,"c":"C4"},{"t":35383.5,"n":49.0,"c":"C4"},{"t":35385.4,"n":49.3,"c":"C4"},{"t":35386.3,"n":48.0,"c":"C4"},{"t":35387.2,"n":48.7,"c":"C4"},{"t":35389.1,"n":49.6,"c":"C4"},{"t":35390.4,"n":48.0,"c":"C4"},{"t":35391.4,"n":49.9,"c":"C4"},{"t":35393.7,"n":50.6,"c":"C4"},{"t":35394.1,"n":49.3,"c":"C4"},{"t":35396.4,"n":48.7,"c":"C4"},{"t":35397.8,"n":50.6,"c":"C4"},{"t":35385.4,"n":45.6,"c":"C4"},{"t":35390.0,"n":45.4,"c":"C4"},{"t":35393.2,"n":44.7,"c":"C4"},{"t":35395.5,"n":45.6,"c":"C4"},{"t":35382.2,"n":43.3,"c":"C4"},{"t":35382.8,"n":40.1,"c":"C4"},{"t":35387.0,"n":39.6,"c":"C4"},{"t":35396.4,"n":42.2,"c":"C4"},{"t":35397.3,"n":39.7,"c":"C4"},{"t":35392.3,"n":36.4,"c":"C4"},{"t":35383.1,"n":32.9,"c":"C4"},{"t":35388.3,"n":33.5,"c":"C4"},{"t":35389.5,"n":34.3,"c":"C4"},{"t":35396.4,"n":33.7,"c":"C4"},{"t":35395.5,"n":32.1,"c":"C4"},{"t":35394.6,"n":30.3,"c":"C4"},{"t":35385.8,"n":27.3,"c":"C4"},{"t":35388.1,"n":27.3,"c":"C4"},{"t":35391.4,"n":27.3,"c":"C4"},{"t":35392.0,"n":24.5,"c":"C4"},{"t":35389.5,"n":22.9,"c":"C4"},{"t":35398.1,"n":26.7,"c":"C4"},
{"t":35405.1,"n":61.5,"c":"C4"},{"t":35399.6,"n":53.1,"c":"C4"},{"t":35401.0,"n":52.5,"c":"C4"},{"t":35402.4,"n":50.7,"c":"C4"},{"t":35402.8,"n":49.0,"c":"C4"},{"t":35398.7,"n":49.3,"c":"C4"},{"t":35411.1,"n":51.3,"c":"C4"},{"t":35419.4,"n":44.8,"c":"C4"},{"t":35403.3,"n":40.7,"c":"C4"},{"t":35407.0,"n":41.8,"c":"C4"},{"t":35409.3,"n":42.6,"c":"C4"},{"t":35410.6,"n":42.8,"c":"C4"},{"t":35410.2,"n":41.0,"c":"C4"},{"t":35408.8,"n":39.8,"c":"C4"},{"t":35410.6,"n":37.7,"c":"C4"},{"t":35406.5,"n":38.6,"c":"C4"},{"t":35415.7,"n":40.5,"c":"C4"},{"t":35416.6,"n":37.3,"c":"C4"},{"t":35401.9,"n":37.2,"c":"C4"},{"t":35401.0,"n":35.8,"c":"C4"},{"t":35403.7,"n":35.9,"c":"C4"},{"t":35400.1,"n":33.1,"c":"C4"},{"t":35399.1,"n":32.1,"c":"C4"},{"t":35406.5,"n":33.7,"c":"C4"},{"t":35408.3,"n":34.8,"c":"C4"},{"t":35409.7,"n":34.7,"c":"C4"},{"t":35407.4,"n":34.0,"c":"C4"},{"t":35412.8,"n":35.0,"c":"C4"},{"t":35416.2,"n":34.0,"c":"C4"},{"t":35417.5,"n":33.7,"c":"C4"},{"t":35419.4,"n":35.2,"c":"C4"},{"t":35427.7,"n":35.6,"c":"C4"},{"t":35401.4,"n":30.3,"c":"C4"},{"t":35404.2,"n":30.3,"c":"C4"},{"t":35409.7,"n":29.9,"c":"C4"},{"t":35416.2,"n":30.5,"c":"C4"},{"t":35417.1,"n":29.6,"c":"C4"},{"t":35418.5,"n":28.8,"c":"C4"},{"t":35420.8,"n":28.3,"c":"C4"},{"t":35425.8,"n":29.4,"c":"C4"},{"t":35426.7,"n":28.3,"c":"C4"},{"t":35428.1,"n":26.7,"c":"C4"},{"t":35429.0,"n":26.5,"c":"C4"},{"t":35401.0,"n":25.7,"c":"C4"},{"t":35401.9,"n":24.8,"c":"C4"},{"t":35405.1,"n":27.6,"c":"C4"},{"t":35404.7,"n":26.4,"c":"C4"},{"t":35413.9,"n":28.0,"c":"C4"},{"t":35412.9,"n":26.1,"c":"C4"},{"t":35415.2,"n":26.4,"c":"C4"},{"t":35414.3,"n":24.1,"c":"C4"},{"t":35414.8,"n":24.8,"c":"C4"},{"t":35406.0,"n":23.8,"c":"C4"},{"t":35407.4,"n":22.4,"c":"C4"},{"t":35413.7,"n":21.6,"c":"C4"},{"t":35426.3,"n":22.2,"c":"C4"},
{"t":35502.6,"n":64.9,"c":"C4"},{"t":35505.9,"n":64.9,"c":"C4"},{"t":35504.9,"n":63.6,"c":"C4"},{"t":35507.2,"n":63.3,"c":"C4"},{"t":35502.2,"n":61.7,"c":"C4"},{"t":35499.9,"n":60.6,"c":"C4"},{"t":35503.6,"n":58.4,"c":"C4"},{"t":35505.4,"n":59.0,"c":"C4"},{"t":35499.0,"n":57.9,"c":"C4"},{"t":35499.4,"n":56.0,"c":"C4"},{"t":35501.3,"n":55.0,"c":"C4"},{"t":35502.2,"n":54.5,"c":"C4"},{"t":35505.6,"n":54.9,"c":"C4"},{"t":35507.2,"n":53.4,"c":"C4"},{"t":35491.6,"n":55.8,"c":"C4"},{"t":35492.3,"n":53.4,"c":"C4"},{"t":35502.2,"n":51.1,"c":"C4"},{"t":35504.9,"n":50.6,"c":"C4"},{"t":35504.0,"n":49.2,"c":"C4"},{"t":35495.3,"n":44.2,"c":"C4"},{"t":35497.6,"n":44.1,"c":"C4"},{"t":35500.1,"n":43.8,"c":"C4"},{"t":35497.1,"n":42.6,"c":"C4"},{"t":35494.4,"n":41.3,"c":"C4"},{"t":35492.7,"n":40.3,"c":"C4"},{"t":35496.2,"n":40.4,"c":"C4"},{"t":35498.5,"n":39.0,"c":"C4"},{"t":35495.3,"n":37.8,"c":"C4"},{"t":35496.7,"n":35.9,"c":"C4"},{"t":35494.8,"n":35.9,"c":"C4"},{"t":35493.0,"n":35.0,"c":"C4"},{"t":35492.1,"n":34.0,"c":"C4"},{"t":35493.9,"n":34.7,"c":"C4"},{"t":35504.3,"n":40.5,"c":"C4"},{"t":35503.6,"n":36.9,"c":"C4"},{"t":35501.7,"n":33.7,"c":"C4"},{"t":35506.3,"n":33.4,"c":"C4"},{"t":35500.3,"n":31.2,"c":"C4"},{"t":35503.1,"n":30.5,"c":"C4"},{"t":35506.8,"n":30.7,"c":"C4"},{"t":35493.9,"n":29.7,"c":"C4"},{"t":35500.8,"n":27.8,"c":"C4"},{"t":35498.8,"n":26.7,"c":"C4"},{"t":35498.5,"n":25.4,"c":"C4"},{"t":35495.7,"n":26.2,"c":"C4"},{"t":35493.0,"n":24.5,"c":"C4"},{"t":35483.1,"n":25.2,"c":"C4"},{"t":35484.7,"n":24.5,"c":"C4"},{"t":35483.8,"n":22.9,"c":"C4"}
],
"alt":[
{"t":35207.5,"a":755.1},{"t":35211.1,"a":755.1},{"t":35213.3,"a":756.5},{"t":35215.2,"a":757.9},{"t":35218.0,"a":759.0},{"t":35223.0,"a":759.0},{"t":35224.9,"a":757.9},{"t":35226.8,"a":756.5},{"t":35229.0,"a":755.1},{"t":35230.4,"a":754.3},{"t":35236.7,"a":754.3},{"t":35238.7,"a":755.4},{"t":35242.8,"a":755.7},{"t":35249.2,"a":757.0},{"t":35254.4,"a":757.9},{"t":35257.2,"a":758.7},{"t":35260.2,"a":759.8},{"t":35264.9,"a":760.0},{"t":35269.6,"a":759.2},{"t":35272.6,"a":761.4},{"t":35273.7,"a":762.2},{"t":35279.5,"a":762.2},{"t":35281.4,"a":760.0},{"t":35285.0,"a":757.0},{"t":35287.5,"a":755.7},{"t":35292.5,"a":757.0},{"t":35294.4,"a":759.8},{"t":35296.1,"a":760.9},{"t":35299.9,"a":760.0},{"t":35303.5,"a":757.3},{"t":35308.2,"a":753.8},{"t":35313.7,"a":749.6},{"t":35316.5,"a":751.6},{"t":35319.2,"a":752.9},{"t":35322.8,"a":753.2},{"t":35325.0,"a":751.8},{"t":35327.8,"a":751.8},{"t":35333.3,"a":753.2},{"t":35335.2,"a":754.3},{"t":35345.7,"a":755.1},{"t":35353.2,"a":755.1},{"t":35356.5,"a":753.2},{"t":35361.5,"a":753.2},{"t":35367.0,"a":755.7},{"t":35380.8,"a":756.5},{"t":35383.5,"a":757.9},{"t":35386.3,"a":758.7},{"t":35392.4,"a":760.0},{"t":35396.0,"a":760.0},{"t":35399.5,"a":757.0},{"t":35402.3,"a":755.7},{"t":35411.7,"a":755.7},{"t":35412.5,"a":757.0},{"t":35417.5,"a":757.0},{"t":35418.6,"a":757.9},{"t":35419.4,"a":757.0},{"t":35425.7,"a":757.0},{"t":35427.7,"a":755.7},{"t":35429.1,"a":754.6},{"t":35430.4,"a":752.9},{"t":35431.8,"a":751.0},{"t":35433.2,"a":749.4},{"t":35437.3,"a":749.1},{"t":35438.7,"a":751.8},{"t":35440.6,"a":754.6},{"t":35442.0,"a":756.5},{"t":35445.0,"a":758.7},{"t":35447.0,"a":759.8},{"t":35451.1,"a":759.2},{"t":35451.7,"a":760.3},{"t":35455.3,"a":761.1},{"t":35458.8,"a":763.9},{"t":35461.3,"a":765.0},{"t":35467.7,"a":765.0},{"t":35469.9,"a":763.3},{"t":35472.6,"a":762.0},{"t":35477.3,"a":760.0},{"t":35480.1,"a":758.4},{"t":35485.6,"a":758.4},{"t":35486.4,"a":759.2},{"t":35492.0,"a":759.2},{"t":35493.1,"a":758.4},{"t":35495.8,"a":760.0},{"t":35501.3,"a":761.1},{"t":35510.0,"a":761.1}
]
},
"layer":[
{
"data":{"name":"pts"},
"mark":{"type":"point","filled":true,"size":90,"strokeWidth":1.5,"opacity":1,"clip":true},
"encoding":{
"x":{"field":"t","type":"quantitative","scale":{"domain":[35207.5,35510],"nice":false,"zero":false},
 "axis":{"orient":"bottom","values":[35250,35300,35350,35400,35450,35500],"labelExpr":"format(datum.value/10000,'.4~g')","title":"Second of day (s)","titleFontSize":42.5,"titleFontWeight":"normal","titleColor":"#262626","titlePadding":14,"labelFontSize":37,"labelColor":"#262626","labelPadding":36,"tickSize":-11,"tickColor":"#262626","domainColor":"#4d4d4d","grid":false,"labelFlush":false,"labelOverlap":false}},
"y":{"field":"n","type":"quantitative","scale":{"domain":[0,140],"nice":false},
 "axis":{"orient":"left","values":[0,20,40,60,80,100,120,140],"title":"Number Concentration (#/cm³)","titleColor":"#0072BD","titleFontSize":42.5,"titleFontWeight":"normal","titlePadding":10,"labelColor":"#0072BD","labelFontSize":37,"labelPadding":28,"labelOffset":3,"tickColor":"#0072BD","tickSize":-11,"domainColor":"#0072BD","grid":false,"labelFlush":false}},
"color":{"field":"c","type":"nominal",
 "scale":{"domain":["U","C1","C2","C3","C4","F"],"range":["#cccccc","#0072BD","#EDB120","#A2142F","#77AC30","#D95319"]},
 "legend":{"labelExpr":"datum.label == 'U' ? 'Unclustered holograms' : datum.label == 'F' ? 'Flight altitude' : replace(datum.label, 'C', 'Cluster ')"}},
"stroke":{"field":"c","type":"nominal",
 "scale":{"domain":["U","C1","C2","C3","C4","F"],"range":["#cccccc","#0072BD","#EDB120","#A2142F","#77AC30","#D95319"]},
 "legend":{"labelExpr":"datum.label == 'U' ? 'Unclustered holograms' : datum.label == 'F' ? 'Flight altitude' : replace(datum.label, 'C', 'Cluster ')"}},
"shape":{"field":"c","type":"nominal",
 "scale":{"domain":["U","C1","C2","C3","C4","F"],"range":["circle","circle","circle","circle","circle","M-5.5,0L5.5,0"]},
 "legend":{"labelExpr":"datum.label == 'U' ? 'Unclustered holograms' : datum.label == 'F' ? 'Flight altitude' : replace(datum.label, 'C', 'Cluster ')"}}
}
},
{
"data":{"name":"alt"},
"mark":{"type":"line","color":"#D95319","strokeWidth":1.2,"clip":true},
"encoding":{
"x":{"field":"t","type":"quantitative","axis":{"orient":"top","values":[35250,35300,35350,35400,35450,35500],"labels":false,"title":null,"tickSize":-11,"tickColor":"#262626","domainColor":"#4d4d4d","grid":false}},
"y":{"field":"a","type":"quantitative","scale":{"domain":[657.1,857.2],"nice":false,"zero":false},
 "axis":{"orient":"right","values":[700,750,800,850],"title":"Altitude (m)","titleAngle":270,"titleBaseline":"top","titleColor":"#D95319","titleFontSize":42.5,"titleFontWeight":"normal","titlePadding":19,"labelColor":"#D95319","labelFontSize":37,"labelPadding":24,"labelOffset":3,"tickColor":"#D95319","tickSize":-11,"domainColor":"#D95319","grid":false,"labelFlush":false}}
}
}
],
"resolve":{"scale":{"y":"independent"},"axis":{"x":"independent","y":"independent"}}
}
